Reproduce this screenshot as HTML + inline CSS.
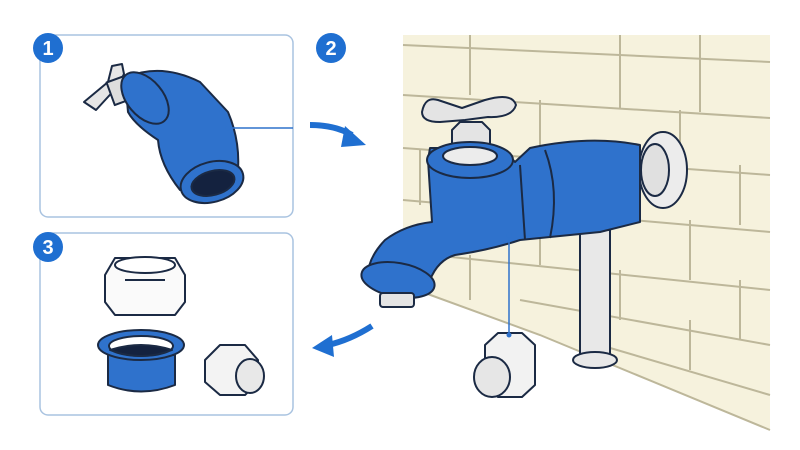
<!DOCTYPE html>
<html><head><meta charset="utf-8"><style>
html,body{margin:0;padding:0;background:#fff;width:800px;height:450px;overflow:hidden}
svg{display:block}
text{font-family:"Liberation Sans",sans-serif;font-weight:bold;fill:#fff}
</style></head><body>
<svg width="800" height="450" viewBox="0 0 800 450">
<!-- wall -->
<polygon points="403,35 770,35 770,430 540,335 403,285" fill="#f6f2dd"/>
<g stroke="#bdb79a" stroke-width="2" fill="none">
<path d="M403 45L770 62M403 95L770 118M403 148L770 175M403 200L770 232M403 252L770 290M520 300L770 345M600 345L770 395"/>
<path d="M470 35V95M620 35V108M700 35V112M540 100V155M680 110V165M420 150V205M620 160V215M740 165V225M540 210V265M690 220V280M470 255V300M620 270V320M740 280V340M690 320V370"/>
</g>
<polyline points="403,285 540,335 770,430" stroke="#bdb79a" stroke-width="2" fill="none"/>
<!-- panels -->
<rect x="40" y="35" width="253" height="182" rx="8" fill="#fff" stroke="#a9c3e0" stroke-width="1.5"/>
<rect x="40" y="233" width="253" height="182" rx="8" fill="#fff" stroke="#a9c3e0" stroke-width="1.5"/>
<!-- numbers -->
<circle cx="48" cy="48" r="15" fill="#1f6fd1"/><text x="48" y="55" font-size="20" text-anchor="middle">1</text>
<circle cx="331" cy="48" r="15" fill="#1f6fd1"/><text x="331" y="55" font-size="20" text-anchor="middle">2</text>
<circle cx="48" cy="247" r="15" fill="#1f6fd1"/><text x="48" y="254" font-size="20" text-anchor="middle">3</text>
<!-- arrows -->
<path d="M310 125Q335 125 352 135" stroke="#1f6fd1" stroke-width="6" fill="none"/>
<path d="M345 126L366 145L341 147Z" fill="#1f6fd1"/>
<path d="M372 326Q350 340 328 345" stroke="#1f6fd1" stroke-width="6" fill="none"/>
<path d="M332 335L312 348L334 357Z" fill="#1f6fd1"/>
<!-- panel1 faucet -->
<g stroke="#1b2a44" stroke-width="2" stroke-linejoin="round">
<path d="M84 102L108 82L112 66L122 64L124 74L118 86L96 110Z" fill="#e6e6e6"/>
<rect x="110" y="78" width="22" height="24" fill="#ddd" transform="rotate(-20 121 90)"/>
<path d="M125 78Q160 62 200 82L228 112Q240 140 238 170L180 190Q160 165 158 140Q135 125 128 112Z" fill="#2f72cc"/>
<ellipse cx="145" cy="98" rx="18" ry="30" transform="rotate(-40 145 98)" fill="#2f72cc"/>
<ellipse cx="212" cy="182" rx="32" ry="20" transform="rotate(-15 212 182)" fill="#2f72cc"/>
<ellipse cx="213" cy="183" rx="22" ry="12" transform="rotate(-15 213 183)" fill="#14223f"/>
</g>
<line x1="228" y1="128" x2="293" y2="128" stroke="#2f72cc" stroke-width="1.5"/>
<circle cx="228" cy="128" r="2.5" fill="#2f72cc"/>
<!-- panel3 parts -->
<g stroke="#1b2a44" stroke-width="2" stroke-linejoin="round">
<path d="M105 275L115 258H175L185 275V302L175 315H115L105 302Z" fill="#fafafa"/>
<ellipse cx="145" cy="265" rx="30" ry="8" fill="#fff"/>
<line x1="125" y1="280" x2="165" y2="280"/>
<path d="M108 355V385Q141 398 175 385V355Z" fill="#2f72cc"/>
<ellipse cx="141" cy="345" rx="43" ry="15" fill="#2f72cc"/>
<ellipse cx="141" cy="346" rx="32" ry="10" fill="#fff"/>
<path d="M110 350Q141 362 172 350Q141 340 110 350Z" fill="#14223f"/>
<path d="M205 360L220 345H245L258 360V382L245 395H220L205 382Z" fill="#f3f3f3"/>
<ellipse cx="250" cy="376" rx="14" ry="17" fill="#e8e8e8"/>
</g>
<!-- main faucet -->
<g stroke="#1b2a44" stroke-width="2" stroke-linejoin="round">
<ellipse cx="663" cy="170" rx="24" ry="38" fill="#ececec"/>
<ellipse cx="655" cy="170" rx="14" ry="26" fill="#e0e0e0"/>
<rect x="580" y="230" width="30" height="130" fill="#e8e8e8"/>
<ellipse cx="595" cy="360" rx="22" ry="8" fill="#e8e8e8"/>
<path d="M422 112Q425 96 438 100L462 108L485 100Q512 92 516 105Q512 118 488 117L465 120L440 122Q422 122 422 112Z" fill="#e4e4e4"/>
<path d="M452 130L460 122H482L490 130V158H452Z" fill="#e4e4e4"/>
<path d="M428 160L432 222Q405 225 385 240Q368 258 368 275L430 280Q438 260 455 255Q490 250 520 240L600 232L640 222L640 145Q590 135 530 148L515 162Q505 150 490 148L430 148Z" fill="#2f72cc"/>
<ellipse cx="470" cy="160" rx="43" ry="18" fill="#2f72cc"/>
<ellipse cx="470" cy="156" rx="27" ry="9" fill="#ececec"/>
<path d="M520 165L525 240" fill="none"/>
<path d="M545 150Q560 190 550 238" fill="none"/>
<ellipse cx="398" cy="280" rx="37" ry="17" transform="rotate(10 398 280)" fill="#2f72cc"/>
<rect x="380" y="293" width="34" height="14" rx="3" fill="#e4e4e4"/>
<path d="M485 345L498 333H522L535 345V385L522 397H498L485 385Z" fill="#f2f2f2"/>
<ellipse cx="492" cy="377" rx="18" ry="20" fill="#e6e6e6"/>
</g>
<line x1="509" y1="235" x2="509" y2="335" stroke="#2f72cc" stroke-width="1.5"/>
<circle cx="509" cy="235" r="3" fill="#2f72cc"/>
<circle cx="509" cy="335" r="2.5" fill="#2f72cc"/>
</svg>
</body></html>
